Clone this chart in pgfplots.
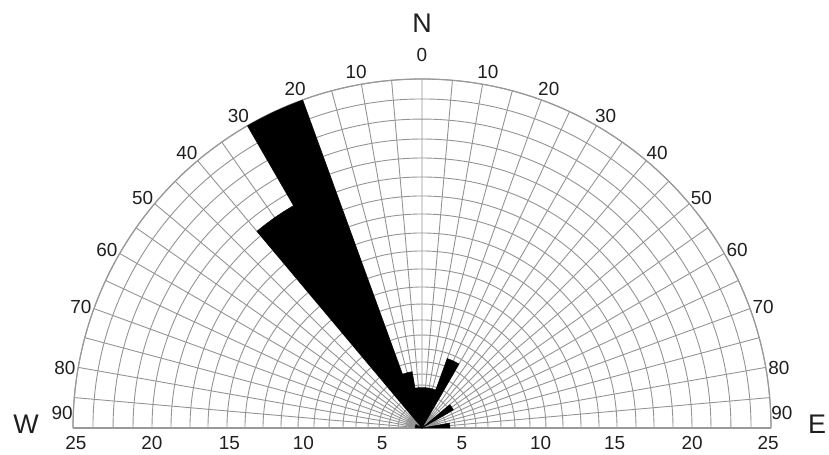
\documentclass[border=0pt]{standalone}
\usepackage{pgfplots}
\pgfplotsset{compat=1.18}
\usepgfplotslibrary{polar}
\usepackage{fontspec}
\setmainfont{Liberation Sans}
\tikzset{
  lbl/.style={font=\fontsize{19}{22}\selectfont, text=black!88, inner sep=0pt},
  big/.style={font=\fontsize{27}{30}\selectfont, text=black!88, inner sep=0pt},
}
\begin{document}
\begin{tikzpicture}
\begin{polaraxis}[
  scale only axis, width=698bp,
  xmin=0, xmax=180, ymin=0, ymax=25,
  clip=false,
  xtick={0,5,...,180}, xticklabels={},
  ytick={0.64,1.15,1.72,2.36,3.08,3.87,4.73,5.66,6.66,7.74,8.88,10.10,11.39,12.68,13.97,15.33,16.62,17.98,19.34,20.70,22.13,23.57,25},
  yticklabels={},
  major tick length=0pt, minor tick length=0pt,
  grid=major,
  major grid style={draw=black!42, line width=0.9bp},
  axis line style={draw=black!40, line width=1.2bp},
]
\coordinate (O) at (axis cs:0,0);
% petals: (math angle, radius)
\addplot[fill=black, draw=black, line width=0.4bp] coordinates {
 (0,0) (0,2.0) (5,2.0) (10,2.0) (10,0)
 (30,0) (30,2.6) (35,2.6) (40,2.6) (40,0)
 (60,0) (60,5.3) (65,5.3) (70,5.3)
 (70,2.9) (75,2.9) (80,2.9) (85,2.9) (90,2.9) (95,2.9) (100,2.9)
 (100,4.1) (105,4.1) (110,4.1)
 (110,25) (112.5,25) (115,25) (117.5,25) (120,25)
 (120,18.4) (122.5,18.4) (125,18.4) (127.5,18.4) (130,18.4) (130,0)
 (150,0) (150,0.5) (160,0.5) (170,0.5) (180,0.5) (180,0)
} -- cycle;
% angle labels
\node[lbl] at (axis cs:90,26.7) {0};
\node[lbl] at (axis cs:100.5,25.93) {10};
\node[lbl] at (axis cs:110.5,25.93) {20};
\node[lbl] at (axis cs:120.5,25.93) {30};
\node[lbl] at (axis cs:130.5,25.93) {40};
\node[lbl] at (axis cs:140.5,25.93) {50};
\node[lbl] at (axis cs:150.5,25.93) {60};
\node[lbl] at (axis cs:160.5,25.93) {70};
\node[lbl] at (axis cs:170.5,25.93) {80};
\node[lbl] at (axis cs:177.6,25.8) {90};
\node[lbl] at (axis cs:79.5,25.93) {10};
\node[lbl] at (axis cs:69.5,25.93) {20};
\node[lbl] at (axis cs:59.5,25.93) {30};
\node[lbl] at (axis cs:49.5,25.93) {40};
\node[lbl] at (axis cs:39.5,25.93) {50};
\node[lbl] at (axis cs:29.5,25.93) {60};
\node[lbl] at (axis cs:19.5,25.93) {70};
\node[lbl] at (axis cs:9.5,25.93) {80};
\node[lbl] at (axis cs:2.4,25.8) {90};
% radial labels
\node[lbl, yshift=-15bp] at (axis cs:180,24.8) {25};
\node[lbl, yshift=-15bp] at (axis cs:180,19.35) {20};
\node[lbl, yshift=-15bp] at (axis cs:180,13.8) {15};
\node[lbl, yshift=-15bp] at (axis cs:180,8.5) {10};
\node[lbl, yshift=-15bp] at (axis cs:180,2.85) {5};
\node[lbl, yshift=-15bp] at (axis cs:0,2.85) {5};
\node[lbl, yshift=-15bp] at (axis cs:0,8.5) {10};
\node[lbl, yshift=-15bp] at (axis cs:0,13.8) {15};
\node[lbl, yshift=-15bp] at (axis cs:0,19.35) {20};
\node[lbl, yshift=-15bp] at (axis cs:0,24.8) {25};
% compass letters
\node[big] at (axis cs:90,29.0) {N};
\node[big, yshift=4bp] at (axis cs:180,28.37) {W};
\node[big, yshift=4bp] at (axis cs:0,28.3) {E};
\end{polaraxis}
\pgfresetboundingbox
\path (O) ++(-422bp,-27bp) rectangle ++(829bp,455bp);
\end{tikzpicture}
\end{document}
